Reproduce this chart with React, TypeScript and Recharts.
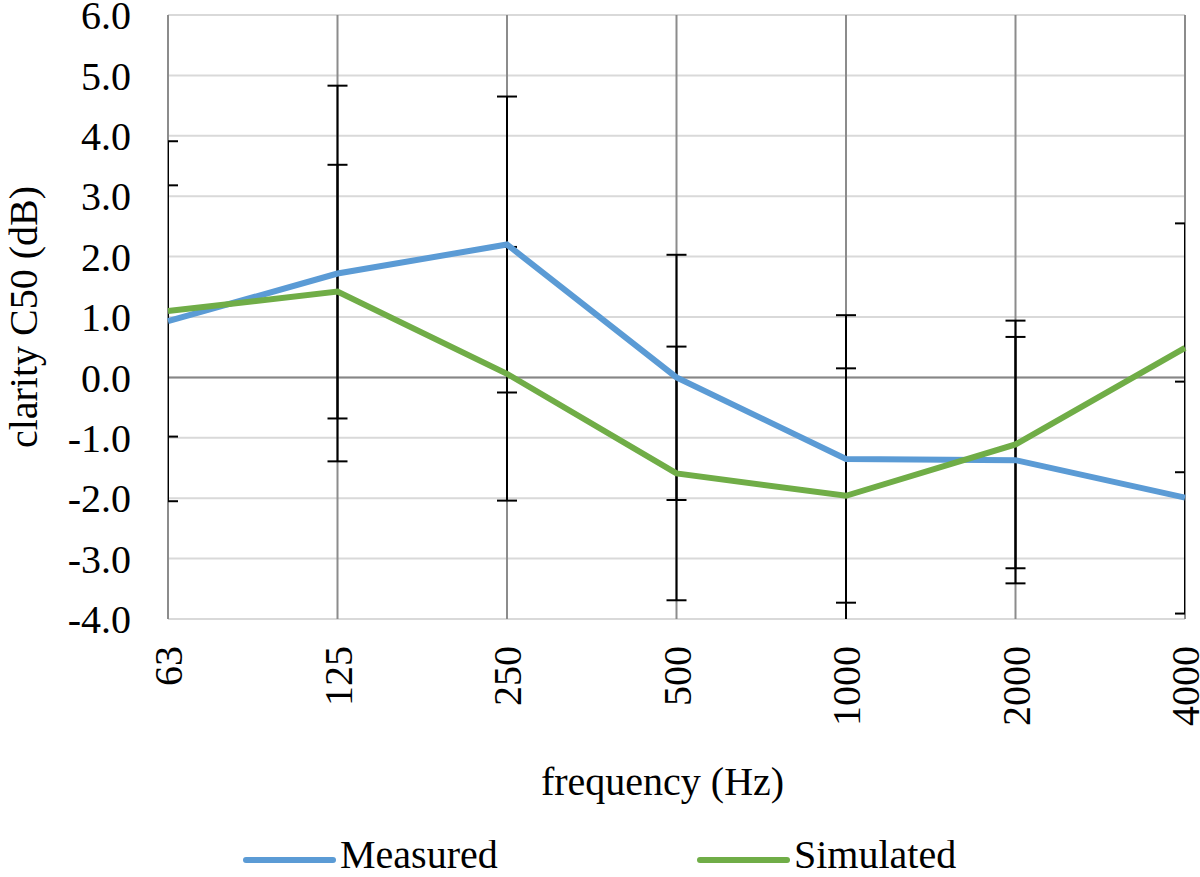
import { LineChart, Line, XAxis, YAxis, CartesianGrid, ErrorBar, ReferenceLine, Legend } from 'recharts';

const frequencies = ['63', '125', '250', '500', '1000', '2000', '4000'];
const measured = [0.93, 1.72, 2.2, 0.0, -1.35, -1.37, -1.99];
const measuredErr = [2.98, 3.11, 2.45, 2.03, 2.38, 2.04, 1.92];
const simulated = [1.1, 1.42, 0.06, -1.59, -1.96, -1.11, 0.49];
const simulatedErr = [2.08, 2.1, 2.1, 2.1, 2.11, 2.05, 2.06];
const yTicks = [-4, -3, -2, -1, 0, 1, 2, 3, 4, 5, 6];

const FONT = '"Liberation Serif", "Times New Roman", serif';
const BLUE = '#5b9bd5';
const GREEN = '#70ad47';

const W = 1200;
const H = 877;
const margin = { top: 15, right: 15, bottom: 0, left: 0 };
const yAxisWidth = 168;
const xAxisHeight = 221;
const legendHeight = 37;

const data = frequencies.map((f, i) => ({
    freq: f,
    measured: measured[i],
    measuredErr: measuredErr[i],
    simulated: simulated[i],
    simulatedErr: simulatedErr[i],
}));

const legendItems = [
    { name: 'Measured', color: BLUE, x: 246 },
    { name: 'Simulated', color: GREEN, x: 700 },
];

// plot rectangle, used to clip the error bars like the source does
const plot = {
    x: margin.left + yAxisWidth,
    y: margin.top,
    w: W - margin.left - margin.right - yAxisWidth,
    h: H - margin.top - margin.bottom - xAxisHeight - legendHeight,
};

function XTick(props: any) {
    const { x, y, payload } = props;
    return (
        <text x={x} y={y} transform={`rotate(-90, ${x}, ${y})`} textAnchor="end" dy="0.35em"
            fontSize={40} fontFamily={FONT} fill="#000">
            {payload.value}
        </text>
    );
}

function renderLegend() {
    return (
        <svg width={W} height={legendHeight} style={{ display: 'block' }}>
            {legendItems.map((it) => (
                <g key={it.name}>
                    <line x1={it.x} x2={it.x + 87} y1={20} y2={20} stroke={it.color} strokeWidth={6} strokeLinecap="round" />
                    <text x={it.x + 94} y={28} fontSize={40} fontFamily={FONT} fill="#000">{it.name}</text>
                </g>
            ))}
        </svg>
    );
}

function App() {
    return (
        <div style={{ position: 'absolute', left: 0, top: 0, width: W, height: H, background: '#fff' }}>
            <LineChart width={W} height={H} data={data} margin={margin}>
                <defs>
                    <clipPath id="plotClip">
                        <rect x={plot.x} y={plot.y} width={plot.w} height={plot.h} />
                    </clipPath>
                </defs>
                <CartesianGrid vertical={false} stroke="#d9d9d9" strokeWidth={2} />
                <CartesianGrid horizontal={false} stroke="#8c8c8c" strokeWidth={2} />
                <XAxis dataKey="freq" height={xAxisHeight} axisLine={false} tickLine={false} tickSize={0} tickMargin={27}
                    interval={0} tick={<XTick />}
                    label={{
                        content: (p: any) => (
                            <text x={p.viewBox.x + p.viewBox.width / 2 - 14} y={p.viewBox.y + 176} textAnchor="middle"
                                fontSize={40} fontFamily={FONT} fill="#000">frequency (Hz)</text>
                        ),
                    }} />
                <YAxis width={yAxisWidth} domain={[-4, 6]} ticks={yTicks} interval={0} allowDataOverflow axisLine={false}
                    tickLine={false} tickSize={0} tickMargin={37} tickFormatter={(v: number) => v.toFixed(1)}
                    tick={{ fill: '#000', fontSize: 40, fontFamily: FONT }}
                    label={{
                        content: (p: any) => {
                            const cx = p.viewBox.x + 37;
                            const cy = p.viewBox.y + p.viewBox.height / 2;
                            return (
                                <text x={cx} y={cy} transform={`rotate(-90, ${cx}, ${cy})`} textAnchor="middle"
                                    fontSize={40} fontFamily={FONT} fill="#000">clarity C50 (dB)</text>
                            );
                        },
                    }} />
                <ReferenceLine y={0} stroke="#868686" strokeWidth={2} />
                {/* error bars sit under the lines, as in the source */}
                <Line dataKey="measured" stroke="none" dot={false} activeDot={false} legendType="none" isAnimationActive={false}>
                    <ErrorBar dataKey="measuredErr" direction="y" width={10} stroke="#000" strokeWidth={2} clipPath="url(#plotClip)" />
                </Line>
                <Line dataKey="simulated" stroke="none" dot={false} activeDot={false} legendType="none" isAnimationActive={false}>
                    <ErrorBar dataKey="simulatedErr" direction="y" width={10} stroke="#000" strokeWidth={2} clipPath="url(#plotClip)" />
                </Line>
                <Line dataKey="measured" name="Measured" stroke={BLUE} strokeWidth={6} dot={false} activeDot={false} isAnimationActive={false} />
                <Line dataKey="simulated" name="Simulated" stroke={GREEN} strokeWidth={6} dot={false} activeDot={false} isAnimationActive={false} />
                <Legend verticalAlign="bottom" height={legendHeight} content={renderLegend} wrapperStyle={{ left: 0, width: W }} />
            </LineChart>
        </div>
    );
}

export default App;
